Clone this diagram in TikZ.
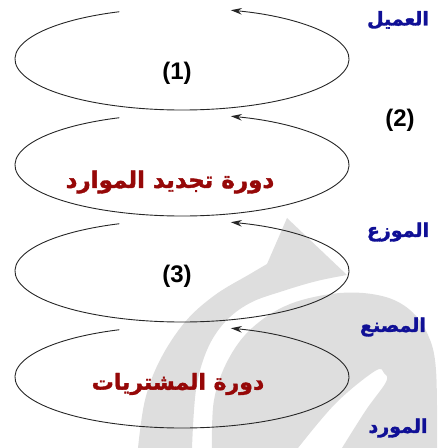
\documentclass[tikz,border=0pt]{standalone}
\usepackage{fontspec}
\setmainfont{Liberation Sans}
\newfontfamily\arabicfont[Script=Arabic,BoldFeatures={FakeBold=1.6}]{DejaVu Sans}
\TeXXeTstate=1
\usetikzlibrary{arrows.meta}
\definecolor{bandgray}{RGB}{222,222,222}
\definecolor{lblue}{RGB}{16,16,150}
\definecolor{lred}{RGB}{150,8,8}
\begin{document}
\begin{tikzpicture}[x=1pt,y=1pt,
  cyc/.style={draw=black!85, line width=0.9pt, -{Stealth[length=11pt,width=6.5pt]}},
  actor/.style={text=lblue, font=\arabicfont\bfseries\fontsize{19}{22}\selectfont},
  cyclename/.style={text=lred, font=\arabicfont\bfseries\fontsize{23}{26}\selectfont},
  num/.style={font=\bfseries\fontsize{24}{28}\selectfont}]
\useasboundingbox (0,0) rectangle (439,448);
% background watermark
\fill[bandgray] plot[smooth, tension=0.6] coordinates {(138,0) (145,48) (160,88) (185,126) (215,153) (250,174) (267,184)}
  -- (287,230) -- (347,173)
  -- plot[smooth, tension=0.6] coordinates {(347,173) (317,167) (283,157) (250,145) (225,126) (207,98) (196,58) (192,0)} -- cycle;
\fill[bandgray] plot[smooth, tension=0.6] coordinates {(212,0) (214,48) (228,88) (252,120) (290,144) (340,155) (382,152) (410,138) (428,113) (436,78) (437,0)}
  -- (342,0)
  -- plot[smooth, tension=0.6] coordinates {(342,0) (366,38) (386,66) (384,75) (375,77) (336,45) (298,0)} -- cycle;
% cycle centres
\coordinate (c1) at (182,389);
\coordinate (c2) at (182,283);
\coordinate (c3) at (182,177);
\coordinate (c4) at (182,71);
\foreach \c in {c1,c2,c3,c4}{
  \draw[cyc] (\c) ++(112:167 and 51) arc[start angle=112, end angle=433, x radius=167, y radius=51];
}
% labels
\node[num] (n1) at (177,375) {(1)};
\node[num] (n2) at (400,328) {(2)};
\node[num] (n3) at (177,172) {(3)};
\node[actor] (a1) at (398,428) {\beginR العميل\endR};
\node[actor] (a2) at (398,216) {\beginR الموزع\endR};
\node[actor] (a3) at (393,121) {\beginR المصنع\endR};
\node[actor] (a4) at (398,20) {\beginR المورد\endR};
\node[cyclename] (r1) at (170,266) {\beginR دورة تجديد الموارد\endR};
\node[cyclename, font=\arabicfont\bfseries\fontsize{22}{25}\selectfont] (r2) at (178,64) {\beginR دورة المشتريات\endR};
\end{tikzpicture}
\end{document}
